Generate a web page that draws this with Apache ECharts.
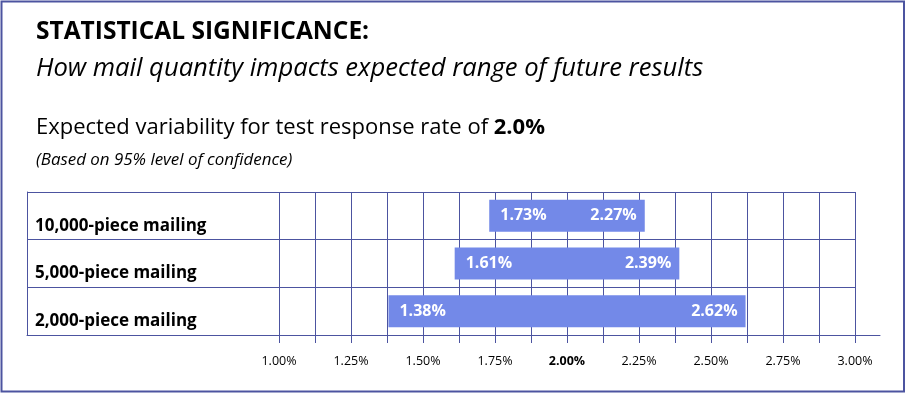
<!DOCTYPE html>
<html><head><meta charset="utf-8">
<script src="https://cdn.jsdelivr.net/npm/echarts@6/dist/echarts.min.js"></script>
<style>html,body{margin:0;padding:0;background:#fff}#c{width:907px;height:393px}</style>
</head><body><div id="c"></div>
<script>
// ---- text ----
const titleText = 'STATISTICAL SIGNIFICANCE:';
const subtitleText = 'How mail quantity impacts expected range of future results';
const captionText = 'Expected variability for test response rate of ';
const testRateLabel = '2.0%';
const noteText = '(Based on 95% level of confidence)';
// ---- data ----
const categories = ['10,000-piece mailing', '5,000-piece mailing', '2,000-piece mailing'];
const lowerValues = [1.73, 1.61, 1.38];
const upperValues = [2.27, 2.39, 2.62];
const testRate = 2.0;
const axisMin = 1.0, axisMax = 3.0, tickStep = 0.125, labelStep = 0.25;

const FONT = "'Open Sans', 'Noto Sans', sans-serif";
const LINE = '#4C54A0';
const BAR = '#7389E8';

const chart = echarts.init(document.getElementById('c'), null, {renderer: 'canvas'});

const gTop = 192, gBottom = 58;
const hidden = {show: false};

const fmtPct = v => {
  const k = v / labelStep;
  if (Math.abs(k - Math.round(k)) > 1e-6) return '';
  const s = v.toFixed(2) + '%';
  return Math.abs(v - testRate) < 1e-6 ? '{b|' + s + '}' : s;
};

const barLabel = {
  show: true, color: '#fff', fontFamily: FONT, fontWeight: 'bold', fontSize: 16
};

const option = {
  animation: false,
  backgroundColor: '#fff',
  title: [
    {text: titleText, left: 36, top: 20, padding: 0,
     textStyle: {fontFamily: FONT, fontWeight: 'bold', fontSize: 24.5, color: '#000'}},
    {text: subtitleText, left: 36, top: 56, padding: 0,
     textStyle: {fontFamily: FONT, fontStyle: 'italic', fontWeight: 'normal', fontSize: 25.6, color: '#000'}},
    {text: captionText + '{b|' + testRateLabel + '}', left: 36, top: 117, padding: 0,
     textStyle: {fontFamily: FONT, fontWeight: 'normal', fontSize: 22, color: '#000',
       rich: {b: {fontFamily: FONT, fontWeight: 'bold', fontSize: 22, color: '#000'}}}},
    {text: noteText, left: 36, top: 152, padding: 0,
     textStyle: {fontFamily: FONT, fontStyle: 'italic', fontWeight: 'normal', fontSize: 16.9, color: '#000'}}
  ],
  graphic: [
    {type: 'rect', shape: {x: 1.5, y: 1.5, width: 902.5, height: 390},
     style: {fill: 'none', stroke: LINE, lineWidth: 2}, silent: true}
  ],
  grid: [
    {left: 279, right: 907 - 855, top: gTop, bottom: gBottom, containLabel: false},
    {left: 27, right: 907 - 279, top: gTop, bottom: gBottom, containLabel: false},
    {left: 855, right: 907 - 880, top: gTop, bottom: gBottom, containLabel: false}
  ],
  xAxis: [
    {gridIndex: 0, type: 'value', min: axisMin, max: axisMax, interval: tickStep,
     axisLine: {show: true, onZero: false, lineStyle: {color: LINE, width: 1}},
     axisTick: {show: true, length: 8, lineStyle: {color: LINE, width: 1}},
     splitLine: {show: true, lineStyle: {color: LINE, width: 1}},
     axisLabel: {show: true, margin: 20, formatter: fmtPct, color: '#000', fontFamily: FONT, fontSize: 12.5,
       rich: {b: {fontFamily: FONT, fontWeight: 'bold', fontSize: 12.5, color: '#000'}}}},
    {gridIndex: 1, type: 'value', min: 0, max: 1,
     axisLine: {show: true, onZero: false, lineStyle: {color: LINE, width: 1}},
     axisTick: hidden, splitLine: hidden, axisLabel: hidden},
    {gridIndex: 2, type: 'value', min: 0, max: 1,
     axisLine: {show: true, onZero: false, lineStyle: {color: LINE, width: 1}},
     axisTick: hidden, splitLine: hidden, axisLabel: hidden}
  ],
  yAxis: [
    {gridIndex: 0, type: 'category', data: categories, inverse: true,
     axisLine: hidden, axisTick: hidden,
     splitLine: {show: true, lineStyle: {color: LINE, width: 1}},
     axisLabel: {show: true, margin: 279 - 35, align: 'left', verticalAlign: 'top', lineHeight: 20,
       color: '#000', fontFamily: FONT, fontWeight: 'bold', fontSize: 17}},
    {gridIndex: 1, type: 'category', data: categories, inverse: true,
     axisLine: {show: true, onZero: false, lineStyle: {color: LINE, width: 1}},
     axisTick: hidden,
     splitLine: {show: true, lineStyle: {color: LINE, width: 1}},
     axisLabel: hidden},
    {gridIndex: 2, type: 'value', show: false, min: 0, max: 1}
  ],
  series: [
    {type: 'bar', xAxisIndex: 0, yAxisIndex: 0, stack: 'range', barWidth: 32, silent: true,
     data: lowerValues, itemStyle: {color: 'rgba(0,0,0,0)'}},
    {type: 'bar', xAxisIndex: 0, yAxisIndex: 0, stack: 'range', barWidth: 32,
     data: lowerValues.map(v => +(testRate - v).toFixed(4)),
     itemStyle: {color: BAR},
     label: Object.assign({}, barLabel, {position: 'insideLeft', distance: 11,
       formatter: p => lowerValues[p.dataIndex].toFixed(2) + '%'})},
    {type: 'bar', xAxisIndex: 0, yAxisIndex: 0, stack: 'range', barWidth: 32,
     data: upperValues.map(v => +(v - testRate).toFixed(4)),
     itemStyle: {color: BAR},
     label: Object.assign({}, barLabel, {position: 'insideRight', distance: 8,
       formatter: p => upperValues[p.dataIndex].toFixed(2) + '%'})}
  ]
};
chart.setOption(option);
</script></body></html>
